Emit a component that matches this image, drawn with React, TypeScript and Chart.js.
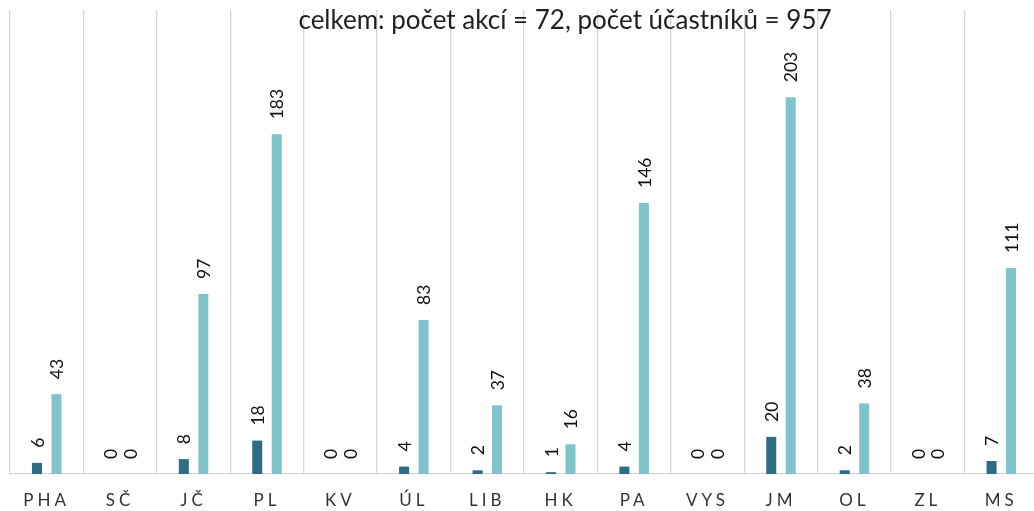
import React, { useEffect, useRef } from "react";
import { Chart, registerables } from "chart.js";

Chart.register(...registerables);

const categories = ["PHA", "SČ", "JČ", "PL", "KV", "ÚL", "LIB", "HK", "PA", "VYS", "JM", "OL", "ZL", "MS"];
const akce = [6, 0, 8, 18, 0, 4, 2, 1, 4, 0, 20, 2, 0, 7];
const ucastnici = [43, 0, 97, 183, 0, 83, 37, 16, 146, 0, 203, 38, 0, 111];
const titleText = "celkem: počet akcí = 72, počet účastníků = 957";
const yMin = 0;
const yMax = 250;

const FONT = "Lato, 'Open Sans', sans-serif";

const spacingPlugin = {
  id: "tickSpacing",
  beforeDraw(chart: any) {
    chart.ctx.letterSpacing = "4px";
  },
  beforeDatasetsDraw(chart: any) {
    chart.ctx.letterSpacing = "0px";
  },
};

const labelsPlugin = {
  id: "valueLabels",
  afterDatasetsDraw(chart: any) {
    const ctx = chart.ctx;
    ctx.save();
    ctx.letterSpacing = "0px";
    ctx.font = `17.5px ${FONT}`;
    ctx.fillStyle = "#111111";
    ctx.textAlign = "left";
    ctx.textBaseline = "middle";
    chart.data.datasets.forEach((ds: any, di: number) => {
      const meta = chart.getDatasetMeta(di);
      meta.data.forEach((el: any, i: number) => {
        const v = ds.data[i];
        ctx.save();
        ctx.translate(el.x + 1, el.y - 15);
        ctx.rotate(-Math.PI / 2);
        ctx.fillText(String(v), 0, 0);
        ctx.restore();
      });
    });
    ctx.restore();
  },
  afterDraw(chart: any) {
    const ctx = chart.ctx;
    ctx.save();
    ctx.letterSpacing = "0px";
    ctx.font = `26px ${FONT}`;
    ctx.fillStyle = "#1f1f1f";
    ctx.textAlign = "center";
    ctx.textBaseline = "alphabetic";
    ctx.fillText(titleText, 565, 29);
    ctx.restore();
  },
};

export default function App() {
  const ref = useRef<HTMLCanvasElement | null>(null);
  useEffect(() => {
    if (!ref.current) return;
    const chart = new Chart(ref.current, {
      type: "bar",
      data: {
        labels: categories,
        datasets: [
          {
            label: "počet akcí",
            data: akce,
            backgroundColor: "#2E6B85",
            categoryPercentage: 0.531,
            barPercentage: 0.513,
          },
          {
            label: "počet účastníků",
            data: ucastnici,
            backgroundColor: "#7FC4CB",
            categoryPercentage: 0.531,
            barPercentage: 0.513,
          },
        ],
      },
      options: {
        animation: false,
        responsive: false,
        layout: { padding: { left: 10, right: 12, top: 10, bottom: 0 } },
        plugins: {
          legend: { display: false },
          title: { display: false },
          tooltip: { enabled: false },
        },
        scales: {
          x: {
            grid: {
              display: true,
              offset: true,
              color: "#D6D6D6",
              lineWidth: 1.3,
              drawTicks: false,
            },
            border: { display: true, color: "#D6D6D6", width: 1.3 },
            ticks: {
              autoSkip: false,
              maxRotation: 0,
              minRotation: 0,
              padding: 16,
              color: "#333333",
              font: { family: FONT, size: 17 },
            },
            afterFit(scale: any) {
              scale.height = 37;
            },
          },
          y: {
            display: false,
            min: yMin,
            max: yMax,
          },
        },
      },
      plugins: [spacingPlugin, labelsPlugin],
    } as any);
    return () => chart.destroy();
  }, []);
  return (
    <div style={{ position: "fixed", left: 0, top: 0, width: 1034, height: 511, overflow: "hidden", background: "#fff" }}>
      <canvas ref={ref} width={1050} height={511} style={{ display: "block" }} />
    </div>
  );
}
